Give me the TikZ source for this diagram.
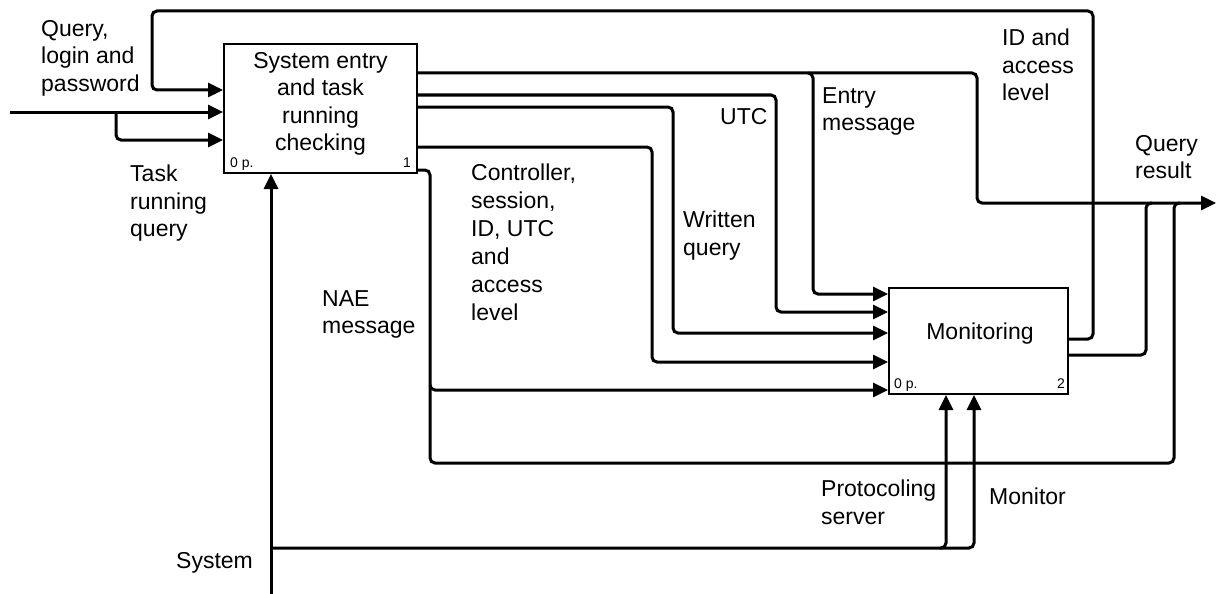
\documentclass[tikz,border=0pt]{standalone}
\usepackage{fontspec}
\setmainfont{Liberation Sans}
\usetikzlibrary{arrows.meta}
\begin{document}
\begin{tikzpicture}[x=1pt,y=-1pt,
  conn/.style={line width=3pt, rounded corners=5pt},
  arr/.style={conn, -{Triangle[length=15pt,width=14pt]}},
  blk/.style={draw, line width=2pt, inner sep=0pt},
  big/.style={inner sep=0pt, font=\fontsize{23}{27.5}\selectfont},
  lbl/.style={big, anchor=north west, align=left},
  small/.style={inner sep=0pt, font=\fontsize{14}{16}\selectfont}
]
\useasboundingbox (0,0) rectangle (1216,594);

% blocks
\node[blk, minimum width=193pt, minimum height=129pt] (box1) at (320.5,108.5) {};
\node[blk, minimum width=179pt, minimum height=106pt] (box2) at (978.5,341) {};

% block texts
\node[big, anchor=north, align=center] (t1) at (320.5,52) {System entry\\and task\\running\\checking};
\node[small, anchor=base west] (p1) at (230,167) {0 p.};
\node[small, anchor=base east] (n1) at (411,167) {1};
\node[big, anchor=base] (t2) at (980,339) {Monitoring};
\node[small, anchor=base west] (p2) at (894,388) {0 p.};
\node[small, anchor=base east] (n2) at (1065,388) {2};

% coordinates
\coordinate (in0) at (10,112);
\coordinate (sys0) at (271,594);
\coordinate (qres) at (1216,203);

% inputs of box1
\draw[arr] (box2.east |- 0,339) -- (1093,339) -- (1093,11) -- (152,11) -- (152,90) -- (box1.west |- 0,90);
\draw[arr] (in0) -- (box1.west |- in0);
\draw[arr] (116,112) -- (116,140) -- (box1.west |- 0,140);

% control from below
\draw[arr] (sys0) -- (box1.south -| sys0);
\draw[arr] (271,548) -- (946,548) -- (box2.south -| 946,0);
\draw[arr] (940,548) -- (974,548) -- (box2.south -| 974,0);

% outputs of box1
\draw[arr] (box1.east |- 0,73) -- (977,73) -- (977,203) -- (qres);
\draw[arr] (808,73) -- (813,73) -- (813,294) -- (box2.west |- 0,294);
\draw[arr] (box1.east |- 0,95) -- (776,95) -- (776,312) -- (box2.west |- 0,312);
\draw[arr] (box1.east |- 0,107) -- (673,107) -- (673,333) -- (box2.west |- 0,333);
\draw[arr] (box1.east |- 0,147) -- (652,147) -- (652,362) -- (box2.west |- 0,362);
\draw[conn] (box1.east |- 0,170) -- (430,170) -- (430,463) -- (1174,463) -- (1174,203) -- (1180,203);
\draw[arr] (430,385) -- (430,390) -- (box2.west |- 0,390);

% outputs of box2
\draw[conn] (box2.east |- 0,355) -- (1146,355) -- (1146,203) -- (1152,203);

% labels
\node[lbl] (l1) at (41,20) {Query,\\login and\\password};
\node[lbl] (l2) at (130,165) {Task\\running\\query};
\node[lbl, font=\fontsize{23}{28}\selectfont] (l3) at (471,164) {Controller,\\session,\\ID, UTC\\and\\access\\level};
\node[lbl] (l4) at (720,108) {UTC};
\node[lbl] (l5) at (683,211) {Written\\query};
\node[lbl] (l6) at (822,87) {Entry\\message};
\node[lbl] (l7) at (1002,29) {ID and\\access\\level};
\node[lbl] (l8) at (1135,135) {Query\\result};
\node[lbl] (l9) at (322,290) {NAE\\message};
\node[lbl] (l10) at (821,480) {Protocoling\\server};
\node[lbl] (l11) at (989,488) {Monitor};
\node[lbl] (l12) at (176,552) {System};
\end{tikzpicture}
\end{document}
